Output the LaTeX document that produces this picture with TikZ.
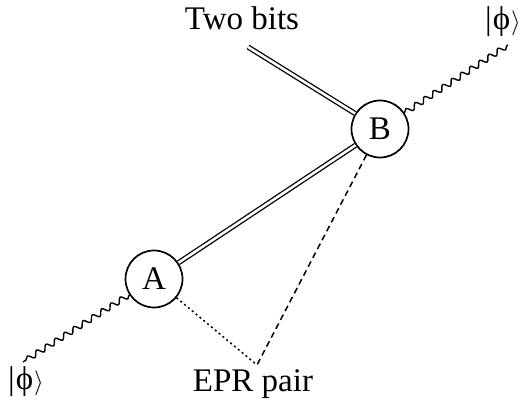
\documentclass[tikz,border=0pt]{standalone}
\usepackage{fontspec}
\setmainfont{Liberation Serif}
\usetikzlibrary{decorations.pathmorphing}
\tikzset{
  party/.style={circle, draw, line width=1.7pt, minimum size=57pt, inner sep=0pt, font=\fontsize{33}{38}\selectfont},
  lbl/.style={font=\fontsize{33}{38}\selectfont, inner sep=0pt},
  wavy/.style={line width=1.4pt, decorate, decoration={snake, segment length=11pt, amplitude=2.8pt}},
  classical/.style={double, line width=1.3pt, double distance=2.6pt},
  epr/.style={line width=1.5pt, dash pattern=on 6pt off 4pt},
  eprdot/.style={line width=1.5pt, dash pattern=on 2pt off 3pt}
}
\newcommand\myket{|\kern1pt ϕ\kern1pt$\rangle$}
\begin{document}
\begin{tikzpicture}[x=1pt, y=-1pt]
\useasboundingbox (0,0) rectangle (523,403);
\node[party] (A) at (154,279) {A};
\node[party] (B) at (380,129) {B};
\node[lbl, anchor=base] (bits) at (242,30) {Two bits};
\node[lbl, anchor=base] (epr) at (253,392) {EPR pair};
\node[lbl, anchor=base] (phiL) at (26,390) {\myket};
\node[lbl, anchor=base] (phiR) at (503,30) {\myket};
\coordinate (wl) at (23,362);
\coordinate (wr) at (508,45);
\coordinate (bitsend) at (248,47);
\coordinate (v) at (257,365);
\draw[wavy] (A) -- (wl);
\draw[wavy] (B) -- (wr);
\draw[classical] (bitsend) -- (B);
\draw[classical] (A) -- (B);
\draw[epr] (B) -- (v);
\draw[eprdot] (A) -- (v);
\end{tikzpicture}
\end{document}
